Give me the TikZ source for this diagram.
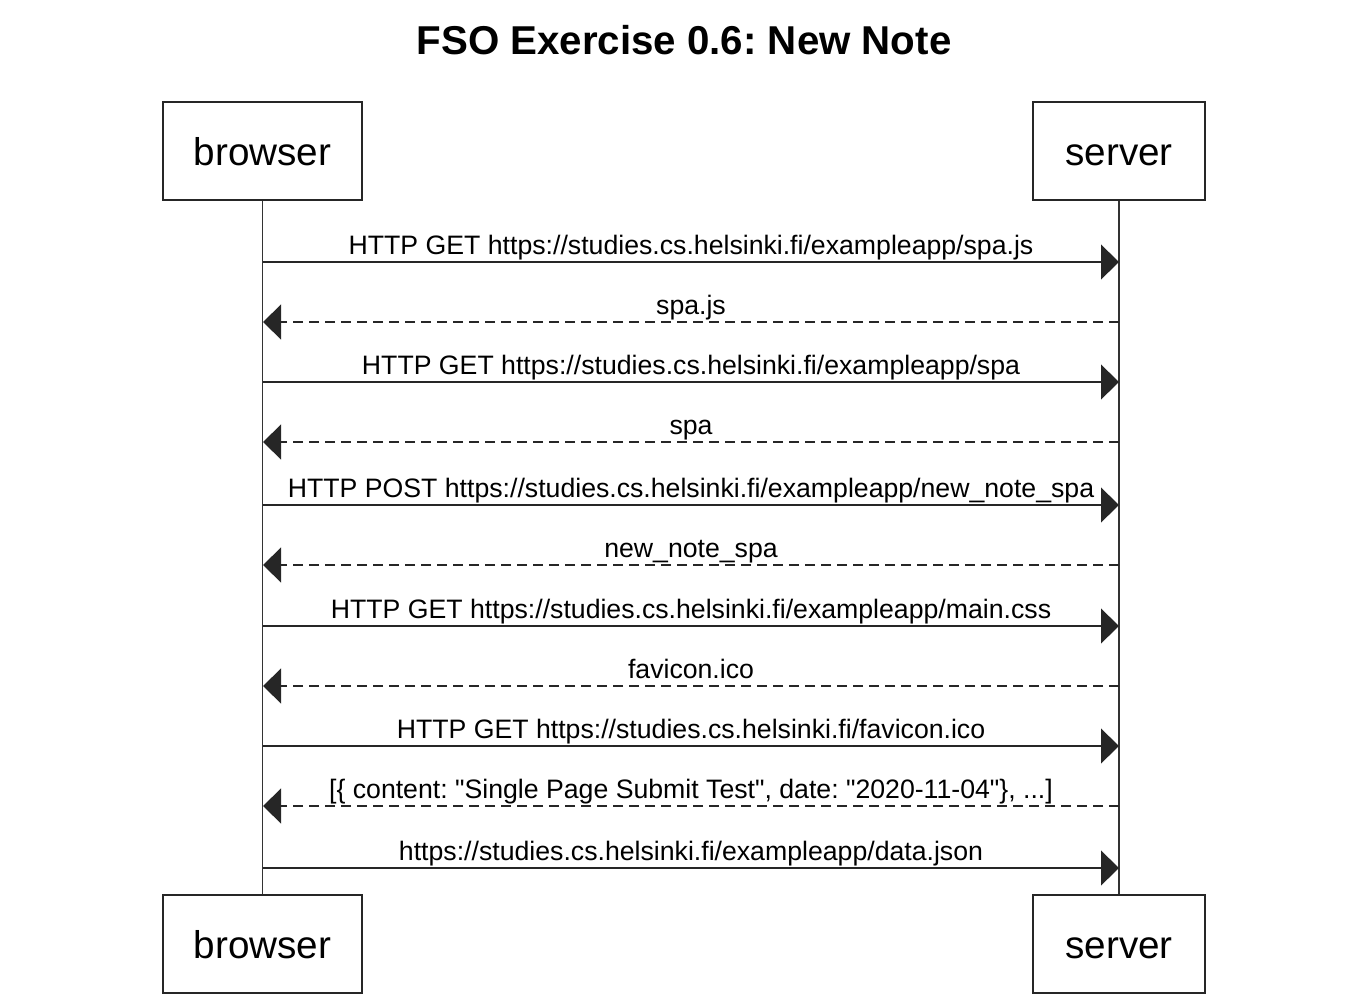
\documentclass[tikz,border=0pt]{standalone}
\usepackage{fontspec}
\setmainfont{Liberation Sans}[Ligatures=TeXOff]
\usetikzlibrary{arrows.meta}
\frenchspacing
\begin{document}
\begin{tikzpicture}[x=0.75pt,y=-0.75pt,
  actor/.style={draw=black!85,line width=1.5pt,minimum width=#1*0.75pt,minimum height=73.5pt,inner sep=0pt,text height=21pt,text depth=0pt,font=\fontsize{29}{34}\selectfont},
  life/.style={draw=black!80,line width=1.1pt},
  req/.style={draw=black!85,line width=1.5pt,-{Triangle[length=13.5pt,width=26pt]}},
  resp/.style={draw=black!85,line width=1.5pt,dash pattern=on 7.5pt off 4.5pt,-{Triangle[length=13.5pt,width=26pt]}},
  msg/.style={anchor=base,inner sep=0pt,yshift=6pt,font=\fontsize{20}{24}\selectfont}]
\useasboundingbox (0,0) rectangle (1360,1004);
\node[font=\bfseries\fontsize{30.2}{36}\selectfont] (title) at (684,40) {FSO Exercise 0.6: New Note};
\node[actor=199] (bt) at (262.5,151) {browser};
\node[actor=172] (st) at (1119,151) {server};
\node[actor=199] (bb) at (262.5,944) {browser};
\node[actor=172] (sb) at (1119,944) {server};
\draw[life] (bt.south) -- (bb.north);
\draw[life] (st.south) -- (sb.north);
\foreach \i/\y in {1/262,2/322,3/382,4/442,5/505,6/565,7/626,8/686,9/746,10/806,11/868}{
  \coordinate (b\i) at (263,\y);
  \coordinate (s\i) at (1119,\y);
}
\draw[req] (b1) -- (s1) node[msg,midway] (m1) {HTTP GET https://studies.cs.helsinki.fi/exampleapp/spa.js};
\draw[resp] (s2) -- (b2) node[msg,midway] (m2) {spa.js};
\draw[req] (b3) -- (s3) node[msg,midway] (m3) {HTTP GET https://studies.cs.helsinki.fi/exampleapp/spa};
\draw[resp] (s4) -- (b4) node[msg,midway] (m4) {spa};
\draw[req] (b5) -- (s5) node[msg,midway] (m5) {HTTP POST https://studies.cs.helsinki.fi/exampleapp/new\_note\_spa};
\draw[resp] (s6) -- (b6) node[msg,midway] (m6) {new\_note\_spa};
\draw[req] (b7) -- (s7) node[msg,midway] (m7) {HTTP GET https://studies.cs.helsinki.fi/exampleapp/main.css};
\draw[resp] (s8) -- (b8) node[msg,midway] (m8) {favicon.ico};
\draw[req] (b9) -- (s9) node[msg,midway] (m9) {HTTP GET https://studies.cs.helsinki.fi/favicon.ico};
\draw[resp] (s10) -- (b10) node[msg,midway] (m10) {[\{ content: "Single Page Submit Test", date: "2020-11-04"\}, ...]};
\draw[req] (b11) -- (s11) node[msg,midway] (m11) {https://studies.cs.helsinki.fi/exampleapp/data.json};
\end{tikzpicture}
\end{document}
